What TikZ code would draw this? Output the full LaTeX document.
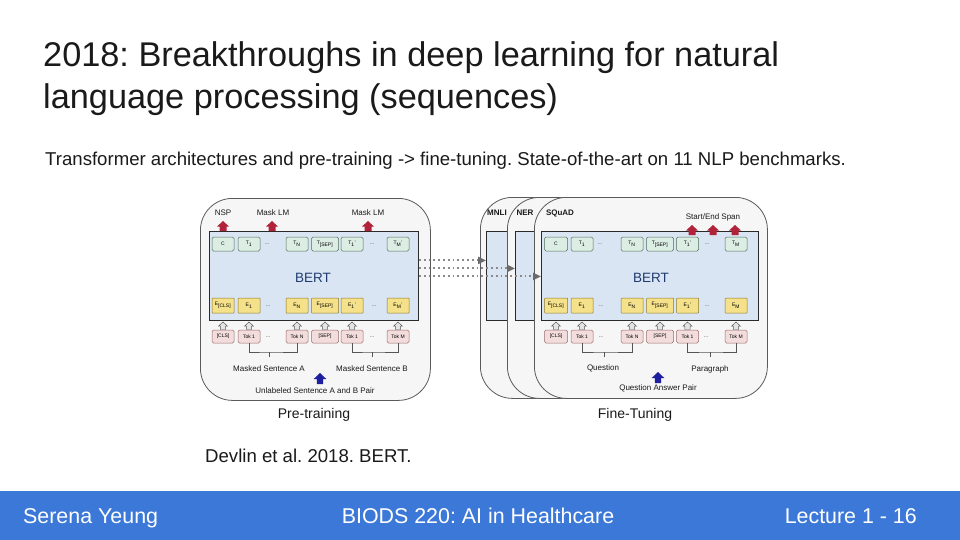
\documentclass[tikz,border=0pt]{standalone}
\usepackage{fontspec}
\setmainfont{Liberation Sans}
\usetikzlibrary{arrows.meta}
\frenchspacing
\definecolor{footblue}{HTML}{3C78D8}
\definecolor{panelfill}{HTML}{F6F6F6}
\definecolor{panelline}{HTML}{5A5A5A}
\definecolor{bertfill}{HTML}{DAE5F4}
\definecolor{bertline}{HTML}{2A2A2A}
\definecolor{bertText}{HTML}{1F3A6E}
\definecolor{greenfill}{HTML}{DCEDE3}
\definecolor{greenline}{HTML}{4F6F5A}
\definecolor{yelfill}{HTML}{F5E18A}
\definecolor{yelline}{HTML}{8A7828}
\definecolor{pinkfill}{HTML}{F3DCDC}
\definecolor{pinkline}{HTML}{9C6A6A}
\definecolor{redc}{HTML}{B0233B}
\definecolor{bluec}{HTML}{1E1EA0}
\definecolor{grayarrfill}{HTML}{E4E4E4}
\definecolor{grayarrline}{HTML}{555555}
\definecolor{dotc}{HTML}{8A8A8A}
\definecolor{tipc}{HTML}{6A6A6A}
\definecolor{textc}{HTML}{1A1A1A}
\begin{document}
\begin{tikzpicture}[x=1pt,y=-1pt,
  panel/.style={draw=panelline, fill=panelfill, line width=0.8pt, rounded corners=32pt, anchor=north west, inner sep=0},
  bertbox/.style={draw=bertline, fill=bertfill, line width=0.9pt, inner sep=0, anchor=north west},
  tbox/.style={draw=greenline, fill=greenfill, rounded corners=1.5pt, minimum height=14pt, inner sep=0, font=\fontsize{5}{5}\selectfont, line width=0.5pt},
  ebox/.style={tbox, draw=yelline, fill=yelfill, minimum height=15pt, rounded corners=0.6pt},
  pbox/.style={tbox, draw=pinkline, fill=pinkfill, minimum height=13pt},
  dotsn/.style={inner sep=0, font=\fontsize{5}{5}\selectfont, text=textc},
  lab/.style={inner sep=0, font=\fontsize{8}{9}\selectfont, text=textc},
  blab/.style={inner sep=0, font=\bfseries\fontsize{8}{9}\selectfont, text=textc},
  big/.style={inner sep=0, font=\fontsize{14}{16}\selectfont, text=textc},
  berttext/.style={inner sep=0, font=\fontsize{13.5}{15}\selectfont, text=bertText},
  brk/.style={draw=grayarrline, line width=0.6pt},
  dotarr/.style={draw=dotc, line width=2pt, dash pattern=on 1.8pt off 3pt, -{Triangle[length=8pt,width=7pt,fill=tipc,color=tipc]}},
  redarr/.pic={\fill[redc] (-3.5,0) -- (-3.5,-4.5) -- (-6,-4.5) -- (0,-10) -- (6,-4.5) -- (3.5,-4.5) -- (3.5,0) -- cycle;},
  bluearr/.pic={\fill[bluec] (-3.2,0) -- (-3.2,-5) -- (-6.3,-5) -- (0,-11) -- (6.3,-5) -- (3.2,-5) -- (3.2,0) -- cycle;},
  grayarr/.pic={\filldraw[fill=grayarrfill, draw=grayarrline, line width=0.45pt] (-2.6,0) -- (-2.6,-3.3) -- (-4.6,-3.3) -- (0,-7.5) -- (4.6,-3.3) -- (2.6,-3.3) -- (2.6,0) -- cycle;}
]
\useasboundingbox (0,0) rectangle (960,540);
\fill[white] (0,0) rectangle (960,540);

% ---------- title ----------
\node[anchor=base west, inner sep=0, font=\fontsize{34.3}{40}\selectfont, text=textc] (t1) at (43,67) {2018: Breakthroughs in deep learning for natural};
\node[anchor=base west, inner sep=0, font=\fontsize{34.3}{40}\selectfont, text=textc] (t2) at (43,109) {language processing (sequences)};
\node[anchor=base west, inner sep=0, font=\fontsize{18.6}{20}\selectfont, text=textc] (sub) at (45,165) {Transformer architectures and pre-training -> fine-tuning. State-of-the-art on 11 NLP benchmarks.};
\node[anchor=base west, inner sep=0, font=\fontsize{18.6}{20}\selectfont, text=textc] (cite) at (205,462) {Devlin et al. 2018. BERT.};

% ---------- footer ----------
\fill[footblue] (0,491) rectangle (960,540);
\node[anchor=base west, inner sep=0, font=\fontsize{21.4}{22}\selectfont, text=white] (f1) at (23,523) {Serena Yeung};
\node[anchor=base, inner sep=0, font=\fontsize{21.4}{22}\selectfont, text=white] (f2) at (478,523) {BIODS 220: AI in Healthcare};
\node[anchor=base east, inner sep=0, font=\fontsize{21.4}{22}\selectfont, text=white] (f3) at (917,523) {Lecture 1 - 16};

% ---------- pre-training panel ----------
\node[panel, minimum width=230pt, minimum height=202pt] (lpanel) at (200,198) {};
\node[bertbox, minimum width=209pt, minimum height=89pt] (lbert) at (209,231) {};
\node[berttext] (lbertlab) at (313,278) {BERT};
\foreach \k/\xx/\ww/\lt/\le/\lp in {
  1/223/22/{C}/{E\textsubscript{[CLS]}}/{[CLS]},
  2/249/22/{T\textsubscript{1}}/{E\textsubscript{1}}/{Tok 1},
  3/297/22/{T\textsubscript{N}}/{E\textsubscript{N}}/{Tok N},
  4/325/27/{T\textsubscript{[SEP]}}/{E\textsubscript{[SEP]}}/{[SEP]},
  5/352/22/{T\textsubscript{1}'}/{E\textsubscript{1}'}/{Tok 1},
  6/398/22/{T\textsubscript{M}'}/{E\textsubscript{M}'}/{Tok M}}
{
  \node[tbox, minimum width=\ww] (lT\k) at (\xx,244) {\lt};
  \node[ebox, minimum width=\ww] (lE\k) at (\xx,305.5) {\le};
  \node[pbox, minimum width=\ww] (lP\k) at (\xx,336.5) {\lp};
  \pic at (\xx,329.5) {grayarr};
}
\node[dotsn] (lTd1) at (267,244) {...};
\node[dotsn] (lTd2) at (372,244) {...};
\node[dotsn] (lEd1) at (268,306) {...};
\node[dotsn] (lEd2) at (374,306) {...};
\node[dotsn] (lPd1) at (268,337) {...};
\node[dotsn] (lPd2) at (372,337) {...};
\pic at (223,231) {redarr};
\pic at (272,231) {redarr};
\pic at (368,231) {redarr};
\node[lab] (nsp) at (223,213) {NSP};
\node[lab] (mlm1) at (273,213) {Mask LM};
\node[lab] (mlm2) at (368,213) {Mask LM};
\coordinate (lbA) at (269,352);
\coordinate (lbB) at (372,352);
\draw[brk] (lP2.south) |- (lbA) -| (lP3.south);
\draw[brk] (lbA) -- ++(0,5);
\draw[brk] (lP5.south) |- (lbB) -| (lP6.south);
\draw[brk] (lbB) -- ++(0,5);
\node[lab] (msa) at (269,369) {Masked Sentence A};
\node[lab] (msb) at (372,369) {Masked Sentence B};
\pic at (320,384) {bluearr};
\node[lab] (unl) at (315,391) {Unlabeled Sentence A and B Pair};
\node[big] (pre) at (314,415) {Pre-training};

% ---------- fine-tuning panels ----------
\node[panel, minimum width=233pt, minimum height=201pt] (mnli) at (480,197) {};
\node[bertbox, minimum width=217pt, minimum height=89pt] (mnlibox) at (486,231) {};
\node[blab] (mnlilab) at (497,213) {MNLI};
\node[panel, minimum width=233pt, minimum height=201pt] (ner) at (507,197) {};
\node[bertbox, minimum width=217pt, minimum height=89pt] (nerbox) at (515,231) {};
\node[blab] (nerlab) at (525,213) {NER};
\node[panel, minimum width=233pt, minimum height=201pt] (squad) at (534,197) {};
\node[bertbox, minimum width=217pt, minimum height=89pt] (rbert) at (541,231) {};
\node[blab] (squadlab) at (560,213) {SQuAD};
\node[berttext] (rbertlab) at (651,278) {BERT};
\foreach \k/\xx/\ww/\lt/\le/\lp in {
  1/556/23/{C}/{E\textsubscript{[CLS]}}/{[CLS]},
  2/582/22/{T\textsubscript{1}}/{E\textsubscript{1}}/{Tok 1},
  3/632/22/{T\textsubscript{N}}/{E\textsubscript{N}}/{Tok N},
  4/660/27/{T\textsubscript{[SEP]}}/{E\textsubscript{[SEP]}}/{[SEP]},
  5/687.5/22/{T\textsubscript{1}'}/{E\textsubscript{1}'}/{Tok 1},
  6/736/22/{T\textsubscript{M}}/{E\textsubscript{M}}/{Tok M}}
{
  \node[tbox, minimum width=\ww] (rT\k) at (\xx,244) {\lt};
  \node[ebox, minimum width=\ww] (rE\k) at (\xx,305.5) {\le};
  \node[pbox, minimum width=\ww] (rP\k) at (\xx,336.5) {\lp};
  \pic at (\xx,329.5) {grayarr};
}
\node[dotsn] (rTd1) at (600,244) {...};
\node[dotsn] (rTd2) at (707,244) {...};
\node[dotsn] (rEd1) at (601,306) {...};
\node[dotsn] (rEd2) at (707,306) {...};
\node[dotsn] (rPd1) at (601,337) {...};
\node[dotsn] (rPd2) at (706,337) {...};
\pic at (692,235) {redarr};
\pic at (713,235) {redarr};
\pic at (735,235) {redarr};
\node[lab] (span) at (713,217) {Start/End Span};
\coordinate (rbA) at (604,352);
\coordinate (rbB) at (710,352);
\draw[brk] (rP2.south) |- (rbA) -| (rP3.south);
\draw[brk] (rbA) -- ++(0,5);
\draw[brk] (rP5.south) |- (rbB) -| (rP6.south);
\draw[brk] (rbB) -- ++(0,5);
\node[lab] (quest) at (603,368) {Question};
\node[lab] (para) at (710,369) {Paragraph};
\pic at (658,383) {bluearr};
\node[lab] (qap) at (658,388) {Question Answer Pair};
\node[big] (fine) at (635,415) {Fine-Tuning};

% ---------- transfer arrows ----------
\draw[dotarr] ([yshift=15.5pt]lbert.east) -- ([yshift=15.5pt]mnlibox.west);
\draw[dotarr] ([yshift=7.5pt]lbert.east) -- ([yshift=7.5pt]nerbox.west);
\draw[dotarr] ([yshift=-0.5pt]lbert.east) -- ([yshift=-0.5pt]rbert.west);
\end{tikzpicture}
\end{document}
